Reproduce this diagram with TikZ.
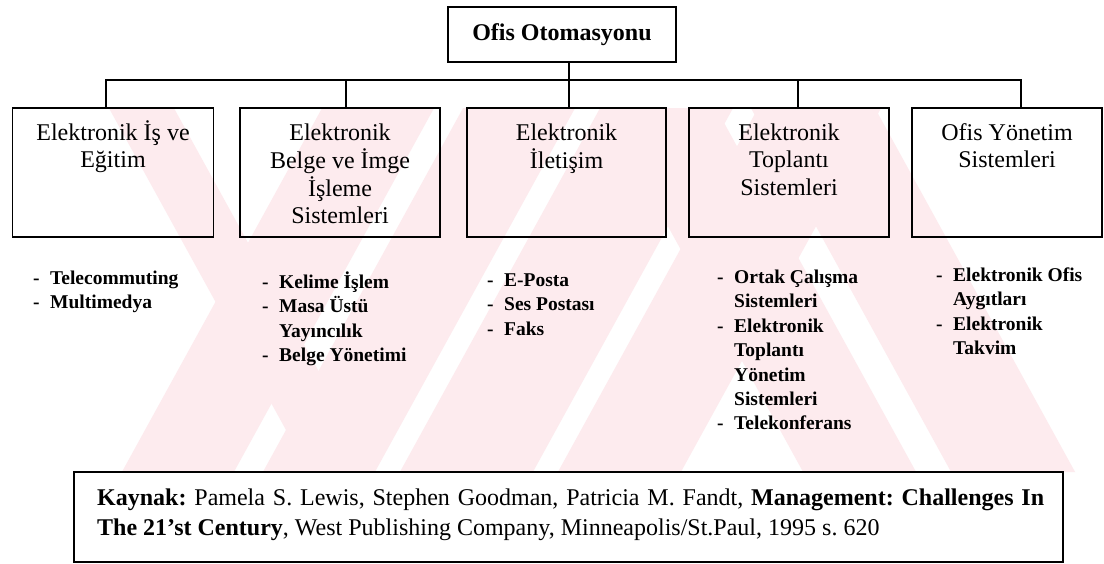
\documentclass[tikz,border=0pt]{standalone}
\usepackage{fontspec}
\setmainfont{Liberation Serif}
\frenchspacing
\definecolor{wmpink}{RGB}{253,235,238}
\newcommand\wmfwd[2]{\fill[wmpink] ({#1-12.1},472) -- ({#2-12.1},472) -- ({#2+192.5},100) -- ({#1+192.5},100) -- cycle;}
\newcommand\wmbwd[2]{\fill[wmpink] ({#1+12.1},472) -- ({#2+12.1},472) -- ({#2-192.5},100) -- ({#1-192.5},100) -- cycle;}
\tikzset{
  topbox/.style={draw, line width=2.6pt, minimum width=228pt, minimum height=55pt, inner sep=0pt,
    font=\fontsize{24}{28}\selectfont\bfseries},
  catbox/.style={draw, line width=1.4pt, minimum width=#1, minimum height=129pt, inner sep=0pt},
  cattitle/.style={anchor=base, inner sep=0pt, font=\fontsize{24}{27.5}\selectfont},
  itemlist/.style={anchor=base west, inner sep=0pt, font=\fontsize{19.5}{24.4}\selectfont\bfseries},
  srcbox/.style={draw, line width=1.4pt, minimum width=989pt, minimum height=90pt, inner sep=0pt},
  srctext/.style={anchor=base west, inner sep=0pt, font=\fontsize{24}{30}\selectfont},
  conn/.style={line width=1.3pt}
}
\newcommand\dsh{\makebox[17pt][l]{-}}
\newcommand\ind{\hspace*{17pt}}
\begin{document}
\begin{tikzpicture}[x=1pt,y=-1pt]
\useasboundingbox (0,0) rectangle (1104,563);
\fill[white] (0,0) rectangle (1104,563);
% watermark
\begin{scope}
  \clip (0,108) rectangle (1104,472);
  \wmfwd{134}{246}
  \wmfwd{275}{387}
  \wmfwd{412}{545}
  \wmfwd{570}{693}
  \wmbwd{791}{904}
  \wmbwd{939}{1063}
  \wmbwd{297}{362}
\end{scope}
% top
\node[topbox] (top) at (562,34.5) {Ofis Otomasyonu};
% category boxes
\node[catbox=201pt] (b1) at (113,172.5) {};
\node[catbox=200pt] (b2) at (340,172.5) {};
\node[catbox=199pt] (b3) at (566.5,172.5) {};
\node[catbox=200pt] (b4) at (789,172.5) {};
\node[catbox=190pt] (b5) at (1007,172.5) {};
% connectors
\coordinate (bus) at (0,80);
\coordinate (d1) at ([xshift=-7pt]b1.north);
\coordinate (d2) at ([xshift=6pt]b2.north);
\coordinate (d3) at ([xshift=2.5pt]b3.north);
\coordinate (d4) at ([xshift=9pt]b4.north);
\coordinate (d5) at ([xshift=14pt]b5.north);
\draw[conn] (d1) -- (d1 |- bus) -- (d5 |- bus) -- (d5);
\draw[conn] (d2) -- (d2 |- bus);
\draw[conn] (d4) -- (d4 |- bus);
\draw[conn] (d3 |- top.south) -- (d3);
% titles
\coordinate (tb) at (0,140);
\node[cattitle] (t1) at (b1.north |- tb) {\begin{tabular}[t]{@{}c@{}}Elektronik İş ve\\Eğitim\end{tabular}};
\node[cattitle] (t2) at (b2.north |- tb) {\begin{tabular}[t]{@{}c@{}}Elektronik\\Belge ve İmge\\İşleme\\Sistemleri\end{tabular}};
\node[cattitle] (t3) at (b3.north |- tb) {\begin{tabular}[t]{@{}c@{}}Elektronik\\İletişim\end{tabular}};
\node[cattitle] (t4) at (b4.north |- tb) {\begin{tabular}[t]{@{}c@{}}Elektronik\\Toplantı\\Sistemleri\end{tabular}};
\node[cattitle] (t5) at (b5.north |- tb) {\begin{tabular}[t]{@{}c@{}}Ofis Yönetim\\Sistemleri\end{tabular}};
% item lists
\node[itemlist] (l1) at (33,284.5) {\begin{tabular}[t]{@{}l@{}}\dsh Telecommuting\\\dsh Multimedya\end{tabular}};
\node[itemlist] (l2) at (262,288.5) {\begin{tabular}[t]{@{}l@{}}\dsh Kelime İşlem\\\dsh Masa Üstü\\\ind Yayıncılık\\\dsh Belge Yönetimi\end{tabular}};
\node[itemlist] (l3) at (487,286.5) {\begin{tabular}[t]{@{}l@{}}\dsh E-Posta\\\dsh Ses Postası\\\dsh Faks\end{tabular}};
\node[itemlist] (l4) at (717,283.5) {\begin{tabular}[t]{@{}l@{}}\dsh Ortak Çalışma\\\ind Sistemleri\\\dsh Elektronik\\\ind Toplantı\\\ind Yönetim\\\ind Sistemleri\\\dsh Telekonferans\end{tabular}};
\node[itemlist] (l5) at (936,281.5) {\begin{tabular}[t]{@{}l@{}}\dsh Elektronik Ofis\\\ind Aygıtları\\\dsh Elektronik\\\ind Takvim\end{tabular}};
% source box
\node[srcbox] (src) at (568.5,517) {};
\node[srctext] (srct) at (97,505) {\begin{tabular}[t]{@{}l@{}}\makebox[947pt][s]{\textbf{Kaynak:} Pamela S. Lewis, Stephen Goodman, Patricia M. Fandt, \textbf{Management: Challenges In}}\\\textbf{The 21’st Century}, West Publishing Company, Minneapolis/St.Paul, 1995 s. 620\end{tabular}};
\end{tikzpicture}
\end{document}
